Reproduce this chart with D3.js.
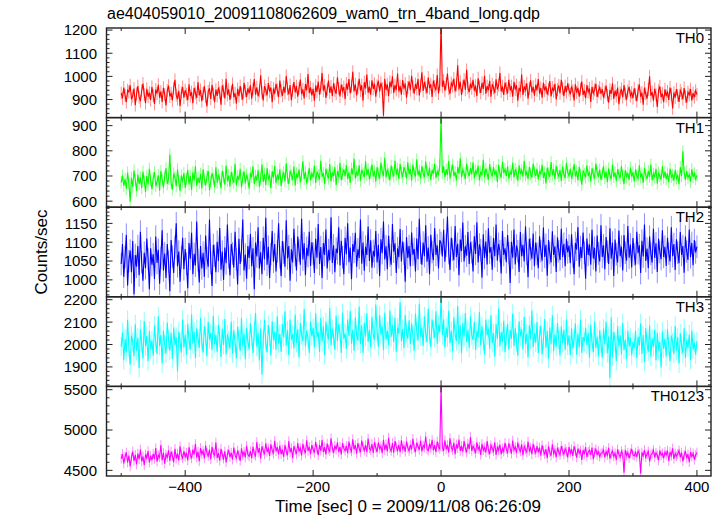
<!DOCTYPE html>
<html><head><meta charset="utf-8">
<script src="https://cdn.jsdelivr.net/npm/d3@7"></script>
<style>body{margin:0;background:#fff}svg{display:block}text{font-family:"Liberation Sans",Arial,Helvetica,sans-serif;fill:#000}</style>
</head><body><svg id="c" width="723" height="516"></svg>
<script>
const title = "ae404059010_20091108062609_wam0_trn_4band_long.qdp";
const xLabel = "Time [sec] 0 = 2009/11/08 06:26:09";
const yLabel = "Counts/sec";
const bands = ["TH0","TH1","TH2","TH3","TH0123"];
const colors = ["#ff0000","#00ff00","#0000ff","#00ffff","#ff00ff"];
const tStart = -500, binSize = 2;
const xDomain = [-523, 422];
const xMajorTicks = [-400,-200,0,200,400];
const xMinorTicks = [-500,-300,-100,100,300];
const yDomains = [[822,1209],[576,932],[955,1193],[1813,2213],[4430,5541]];
const yMajorStep = [100,100,50,100,500];
const yMinorStep = [20,20,10,20,100];
const errHalf = [28,24,30,42,60];

const th0 = [928,905,952,918,889,940,933,962,901,915,947,876,925,958,910,893,937,969,921,884,946,912,930,898,955,
917,881,943,926,964,908,935,890,951,922,874,939,960,913,927,896,948,985,919,902,938,871,929,954,908,
940,923,897,966,915,932,884,950,928,907,975,918,941,893,926,958,912,870,935,949,903,964,924,889,943,
916,952,930,878,961,937,905,990,921,944,898,932,968,910,927,882,946,915,958,925,900,972,936,911,948,
927,962,904,945,988,921,953,915,937,1005,930,896,958,942,918,971,934,952,889,947,925,968,941,910,982,
938,916,955,929,1002,946,922,963,897,940,975,931,958,912,949,986,924,944,905,967,939,1010,928,953,918,
946,895,960,933,978,921,950,1015,938,962,907,944,982,929,957,915,971,940,925,996,948,913,965,937,954,
902,969,943,988,926,958,1020,935,966,918,951,990,939,962,895,975,948,1008,930,955,921,983,946,968,912,
959,981,935,972,948,830,990,942,966,915,977,953,1000,928,962,941,1012,935,958,921,984,947,969,908,952,
978,940,1003,955,925,967,946,989,918,960,1018,937,975,952,928,995,949,966,911,982,957,940,1006,926,964,
1240,
955,982,938,968,1012,947,925,971,958,990,935,963,1048,944,977,920,958,986,942,1028,951,932,969,948,985,
938,960,915,992,954,929,972,946,1003,925,958,940,981,912,966,950,928,987,944,962,1015,935,957,920,973,
948,926,985,939,958,912,976,943,962,895,951,935,1008,920,957,941,970,904,948,983,932,955,917,964,940,
988,925,950,908,972,939,957,921,945,980,913,952,936,968,900,943,961,927,985,948,915,958,932,970,941,
922,957,938,896,966,930,951,912,945,978,920,939,906,962,933,948,890,955,927,942,968,911,936,952,925,
945,908,931,960,918,887,942,925,970,903,938,915,952,880,929,946,910,962,924,899,937,955,916,930,906,
948,921,893,940,965,912,930,878,951,925,904,943,1000,916,932,895,946,920,868,938,957,910,926,889,944,
915,935,898,952,922,862,930,908,945,918,890,939,926,901,950,913,887,932,920,945,896,928,910,938,922];

const th1 = [675,702,661,688,649,714,670,598,693,657,722,684,641,706,668,695,652,718,679,637,700,666,729,683,648,
691,715,660,677,703,642,720,686,655,698,731,668,689,785,672,646,710,694,659,726,681,640,703,675,712,
653,689,724,667,700,645,715,682,739,661,694,672,708,650,727,686,664,698,720,643,679,711,690,656,735,
673,705,688,651,720,695,666,742,680,702,658,716,691,673,748,662,700,684,729,655,693,718,670,706,687,
650,712,695,738,668,701,682,724,657,690,745,676,709,664,731,688,700,652,719,693,740,671,705,685,727,
660,698,715,679,750,692,668,721,704,685,738,662,710,693,726,674,705,758,688,716,670,699,732,683,709,
694,741,672,718,703,686,760,697,712,668,729,705,690,747,678,715,700,735,664,720,695,752,684,708,726,
699,743,688,715,672,730,706,768,690,718,701,742,681,725,710,695,758,703,728,686,714,745,698,720,677,
735,709,690,752,717,700,772,694,726,708,683,741,715,698,760,705,729,688,747,712,696,735,719,690,754,
707,728,681,745,712,698,766,703,721,690,739,710,695,757,716,700,733,684,724,709,748,692,718,703,740,
935,
712,738,695,726,704,760,689,721,745,700,716,682,736,709,770,694,725,711,688,748,715,699,731,706,754,
690,722,707,741,683,718,702,764,695,729,710,686,747,713,698,735,705,722,676,744,709,693,756,712,727,
700,738,689,718,705,752,694,727,711,681,742,708,723,697,760,702,716,688,735,709,694,748,715,700,729,
686,721,706,744,692,715,670,733,710,697,755,703,726,688,740,712,699,724,680,738,706,692,751,714,700,
728,690,712,747,698,720,683,736,705,665,722,709,694,742,700,716,678,731,706,690,749,713,697,725,684,
710,738,692,718,675,730,702,687,745,696,714,680,727,705,691,739,701,668,723,695,712,684,733,698,715,
678,726,700,689,742,694,710,672,731,703,688,720,697,745,683,709,695,728,670,714,700,686,738,692,717,
688,710,675,729,696,705,682,724,690,701,668,735,699,798,712,684,720,693,706,676,727,695,710,688,703];

const th2 = [1042,1095,1008,1061,1120,985,1050,1078,1020,1103,962,1066,1035,1090,1012,1128,1047,998,1072,1031,1110,1055,975,1084,1040,
1068,1002,1115,1045,1080,990,1058,1132,1025,1070,1005,1095,1048,970,1106,1062,1018,1087,1150,1036,1075,995,1060,1112,1028,
1082,1043,978,1098,1056,1125,1015,1069,1038,1155,1052,993,1090,1030,1072,1008,1118,1058,1035,1160,1046,984,1093,1064,1020,
1101,1050,1138,1027,1075,1000,1086,1044,1147,1060,1012,1095,1070,1033,1128,1055,988,1109,1042,1078,1160,1025,1067,1003,1090,
1058,1122,1036,1084,975,1099,1062,1140,1030,1073,1015,1112,1055,1165,1040,1088,1005,1068,1130,1048,1095,1022,1076,1150,1060,
1010,1103,1072,1035,1158,1057,1090,998,1081,1046,1136,1066,1025,1115,1078,1040,1162,1054,1097,1012,1085,1063,1128,1037,1100,
1070,1018,1109,1059,1148,1042,1087,1005,1098,1066,1134,1030,1079,1052,1166,1045,1092,1020,1083,1071,1140,1038,1104,1060,1015,
1112,1068,1150,1047,1086,1002,1095,1074,1125,1035,1081,1058,1160,1043,1099,1024,1088,1066,1142,1050,1105,1032,1077,1062,1130,
1046,1093,1010,1108,1071,1155,1054,1089,1028,1117,1065,1040,1148,1075,1097,1018,1084,1060,1135,1049,1102,1070,995,1114,1058,
1090,1036,1126,1067,1082,1022,1110,1055,1162,1072,1040,1099,1063,1145,1048,1086,1015,1120,1074,1052,1138,1066,1092,1030,1105,
1098,
1062,1133,1048,1091,1168,1071,1026,1112,1080,1052,1143,1061,1096,1012,1107,1077,1152,1049,1089,1064,1127,1042,1100,1073,1022,
1116,1069,1153,1046,1094,1079,1006,1121,1058,1102,1041,1137,1072,1087,1027,1111,1063,1147,1051,1096,1076,1017,1130,1066,1084,
1047,1119,1071,992,1101,1059,1134,1041,1091,1076,1021,1127,1063,1093,1049,1142,1070,1007,1109,1081,1056,1123,1036,1099,1069,
1031,1116,1076,1051,1139,1061,1093,1011,1106,1071,1046,1129,1066,1089,1021,1113,1076,1053,1136,1061,1096,1036,1109,1073,1091,
1044,1121,1062,1015,1098,1080,1140,1035,1087,1058,1126,1072,1003,1110,1066,1094,1040,1133,1057,1085,1022,1118,1070,1049,1145,
1061,1092,1028,1114,1075,1042,1137,1056,1099,1010,1107,1068,1046,1131,1063,1088,1025,1119,1072,1051,1143,1059,1094,1033,1111,
1067,1040,1128,1071,1092,1018,1104,1062,1147,1050,1083,1031,1115,1069,1046,1136,1058,1097,1021,1109,1074,1055,1132,1061,1088,
1037,1112,1070,1049,1140,1063,1095,1026,1108,1072,1044,1127,1066,1090,1019,1115,1075,1053,1134,1060,1098,1039,1106,1073,1088];

const th3 = [1990,2055,1930,2025,1965,2110,1985,1910,2040,2012,1948,2090,1972,2030,1895,2068,2003,1938,2105,1992,2038,1925,2060,1978,2018,
1950,2085,2008,1958,2125,1994,2043,1915,2062,2000,1960,2098,2022,1972,2052,1935,2076,1998,2033,1880,2058,2012,1963,2112,1987,
2045,1955,2092,2016,1978,2135,2004,2058,1940,2072,2028,1986,2118,2010,1964,2082,2037,1948,2101,2022,2052,1976,2128,2001,2043,
1968,2088,2031,1944,2070,1998,2114,1957,2046,2017,1983,2102,1960,2064,2008,1938,2080,2025,1970,2118,1992,2048,1935,2075,2012,
1978,2095,2033,1962,2058,2141,1990,2052,1929,2071,1865,2023,2110,2005,1966,2087,2036,1951,2104,2019,2057,1977,2126,2003,2048,
1967,2092,2032,2148,1996,2064,1952,2112,2022,2046,1983,2133,2007,2068,1942,2096,2041,2016,2158,1992,2061,2027,1962,2104,2037,
2074,1987,2139,2031,2056,1967,2118,2012,2081,1952,2101,2046,2022,2163,1997,2071,2036,1977,2128,2016,2091,2051,1962,2142,2026,
2049,1980,2112,2038,2150,2003,2066,1972,2121,2042,2017,2168,2002,2086,1962,2097,2036,2139,2012,2066,1987,2124,2041,2021,2178,
2058,1990,2130,2045,2080,1975,2142,2022,2060,1998,2152,2034,2088,2010,2120,1968,2076,2048,2190,2014,2070,1985,2132,2052,2026,
2108,2002,2094,2040,1972,2138,2060,2018,2182,2035,2075,1995,2126,2050,2010,2160,2042,1988,2112,2066,2030,2148,2004,2088,2055,
2210,
2042,2112,1987,2076,2031,2152,2006,2061,1971,2122,2046,2016,2172,2001,2086,1961,2096,2036,2141,2011,2066,1986,2126,2041,2021,
2101,1976,2061,2031,2146,1996,2081,2016,1956,2111,2041,2071,1981,2131,2006,2051,1946,2091,2026,2161,1991,2056,2011,2106,1966,
2038,2092,1978,2065,2026,2138,1994,2074,2010,1950,2104,2036,2068,1978,2124,2002,2048,1942,2086,2022,2152,1988,2052,2008,2100,
1962,2041,2084,1956,2021,2114,1986,2061,1936,2076,2001,2131,1971,2046,1991,2096,2021,1951,2081,2006,2066,1976,2111,1996,2041,
1952,2072,1982,2026,2094,1955,2048,1988,2112,1962,2034,2012,2075,1998,2052,1940,2088,2010,1966,2102,1984,2036,1948,2064,2004,
1941,2071,2001,2101,1961,2036,1850,2121,1946,2056,2011,1926,2081,1991,2041,1956,2096,1976,2021,1936,2061,1991,2031,1951,2011,
1985,2062,1940,2034,1996,2095,1958,2042,1922,2074,2003,1968,2086,1945,2028,1990,2066,1930,2052,1975,2012,1898,2058,1981,2026,
1947,2068,1992,1925,2040,2010,1958,2083,1972,2032,1915,2050,1996,1960,2072,1940,2020,1985,2045,1930,2062,1978,2008,1955,2015];

const th0123 = [4645,4702,4585,4668,4722,4598,4683,4548,4657,4733,4617,4692,4572,4708,4638,4758,4612,4673,4563,4698,4652,4738,4597,4682,4628,
4705,4642,4775,4608,4687,4661,4815,4627,4718,4583,4697,4662,4748,4618,4732,4678,4602,4768,4647,4708,4623,4797,4688,4652,4737,
4668,4718,4622,4787,4692,4648,4757,4698,4826,4658,4732,4612,4777,4702,4742,4648,4806,4717,4677,4757,4637,4792,4712,4687,4845,
4655,4712,4620,4768,4690,4645,4735,4598,4702,4752,4665,4718,4632,4782,4688,4655,4745,4692,4618,4772,4683,4728,4660,4805,4697,
4672,4738,4652,4792,4705,4680,4852,4718,4775,4648,4797,4742,4698,4836,4728,4772,4678,4822,4748,4707,4866,4737,4787,4697,4807,
4702,4758,4668,4815,4733,4688,4862,4722,4778,4652,4801,4747,4703,4838,4732,4776,4684,4828,4752,4712,4872,4742,4792,4702,4812,
4757,4718,4852,4767,4688,4817,4742,4877,4727,4787,4698,4832,4762,4737,4897,4777,4717,4807,4757,4847,4727,4792,4697,4837,4772,
4742,4802,4712,4858,4768,4735,4885,4760,4812,4708,4838,4774,4725,4868,4790,4746,4812,4726,4895,4772,4748,4826,4716,4850,4780,
4725,4846,4768,4800,4712,4878,4752,4822,4735,4905,4775,4740,4838,4718,4862,4790,4745,4815,4725,4872,4766,4800,4730,4858,4782,
4740,4815,4760,4890,4775,4728,4842,4796,4752,4870,4735,4808,4782,4920,4765,4745,4830,4770,4880,4748,4812,4726,4856,4790,4765,
5560,
4788,4742,4872,4762,4812,4722,4898,4782,4752,4842,4702,4822,4772,4882,4742,4802,4732,4862,4772,4722,4832,4762,4912,4742,4802,
4768,4712,4848,4762,4792,4692,4828,4748,4782,4722,4862,4752,4702,4812,4772,4737,4848,4692,4787,4747,4818,4702,4772,4732,4842,
4762,4722,4835,4775,4708,4868,4752,4790,4712,4846,4768,4735,4822,4688,4798,4760,4720,4858,4742,4782,4700,4828,4755,4718,4800,
4722,4782,4682,4812,4742,4702,4762,4652,4797,4722,4682,4822,4712,4752,4662,4782,4727,4692,4802,4742,4700,4768,4732,4660,4790,
4712,4762,4680,4798,4738,4658,4770,4712,4745,4630,4752,4702,4788,4668,4728,4750,4692,4782,4638,4720,4762,4688,4742,4670,4710,
4720,4752,4662,4735,4690,4778,4645,4708,4740,4672,4712,4628,4760,4698,4665,4738,4702,4470,4755,4682,4720,4650,4712,4765,4690,
4680,4722,4668,4740,4705,4460,4722,4680,4752,4662,4700,4735,4610,4690,4708,4752,4662,4718,4690,4625,4745,4688,4712,4650,4728,
4692,4745,4618,4728,4682,4772,4642,4710,4675,4702,4745,4660,4720,4612,4690,4740,4650,4700,4602,4725,4670,4710,4632,4690,4722];

const series = [th0, th1, th2, th3, th0123];

const L = 106.5, R = 711, T = 28, B = 476;
const ph = (B - T) / bands.length;
const svg = d3.select("#c");
const x = d3.scaleLinear().domain(xDomain).range([L, R]);
const frame = "#222";

svg.append("text").attr("x", 107).attr("y", 19).attr("font-size", 16).text(title);

series.forEach((vals, k) => {
  const top = T + k * ph, bot = top + ph;
  const y = d3.scaleLinear().domain(yDomains[k]).range([bot, top]);
  const g = svg.append("g");
  const cid = "clip" + k;
  svg.append("clipPath").attr("id", cid).append("rect")
    .attr("x", L).attr("y", top).attr("width", R - L).attr("height", ph);
  const data = vals.map((v, i) => ({t: tStart + i * binSize, v}));
  const pg = g.append("g").attr("clip-path", `url(#${cid})`);
  pg.selectAll("line.err").data(data).enter().append("line")
    .attr("x1", d => x(d.t)).attr("x2", d => x(d.t))
    .attr("y1", d => y(d.v - errHalf[k])).attr("y2", d => y(d.v + errHalf[k]))
    .attr("stroke", colors[k]).attr("stroke-opacity", 0.45).attr("stroke-width", 1);
  pg.append("path").datum(data)
    .attr("d", d3.line().x(d => x(d.t)).y(d => y(d.v)))
    .attr("fill", "none").attr("stroke", colors[k]).attr("stroke-width", 1.1);

  const [y0, y1] = yDomains[k];
  const minor = d3.range(Math.ceil(y0 / yMinorStep[k]) * yMinorStep[k], y1, yMinorStep[k]);
  const major = d3.range(Math.ceil(y0 / yMajorStep[k]) * yMajorStep[k], y1 + 1e-9, yMajorStep[k]);
  const tg = g.append("g").attr("stroke", frame).attr("stroke-width", 1);
  minor.forEach(v => {
    const isMaj = Math.abs(v / yMajorStep[k] - Math.round(v / yMajorStep[k])) < 1e-9;
    const len = isMaj ? 6 : 3;
    tg.append("line").attr("x1", L).attr("x2", L + len).attr("y1", y(v)).attr("y2", y(v));
    tg.append("line").attr("x1", R).attr("x2", R - len).attr("y1", y(v)).attr("y2", y(v));
  });
  major.forEach(v => {
    g.append("text").attr("x", 97).attr("y", y(v)).attr("dy", "0.36em")
      .attr("text-anchor", "end").attr("font-size", 15).text(v);
  });
  xMajorTicks.forEach(t => {
    tg.append("line").attr("x1", x(t)).attr("x2", x(t)).attr("y1", bot).attr("y2", bot - 6);
    tg.append("line").attr("x1", x(t)).attr("x2", x(t)).attr("y1", top).attr("y2", top + 6);
  });
  xMinorTicks.forEach(t => {
    tg.append("line").attr("x1", x(t)).attr("x2", x(t)).attr("y1", bot).attr("y2", bot - 3);
    tg.append("line").attr("x1", x(t)).attr("x2", x(t)).attr("y1", top).attr("y2", top + 3);
  });
  g.append("rect").attr("x", L).attr("y", top).attr("width", R - L).attr("height", ph)
    .attr("fill", "none").attr("stroke", frame).attr("stroke-width", 1.4);
  g.append("text").attr("x", 704).attr("y", top + 15).attr("text-anchor", "end")
    .attr("font-size", 15).text(bands[k]);
});

xMajorTicks.forEach(t => {
  svg.append("text").attr("x", x(t)).attr("y", 492).attr("text-anchor", "middle")
    .attr("font-size", 15).text(t < 0 ? "\u2212" + Math.abs(t) : String(t));
});
svg.append("text").attr("x", 408).attr("y", 511.5).attr("text-anchor", "middle")
  .attr("font-size", 17).text(xLabel);
svg.append("text").attr("transform", "translate(47,252) rotate(-90)")
  .attr("text-anchor", "middle").attr("font-size", 17).text(yLabel);
</script></body></html>
